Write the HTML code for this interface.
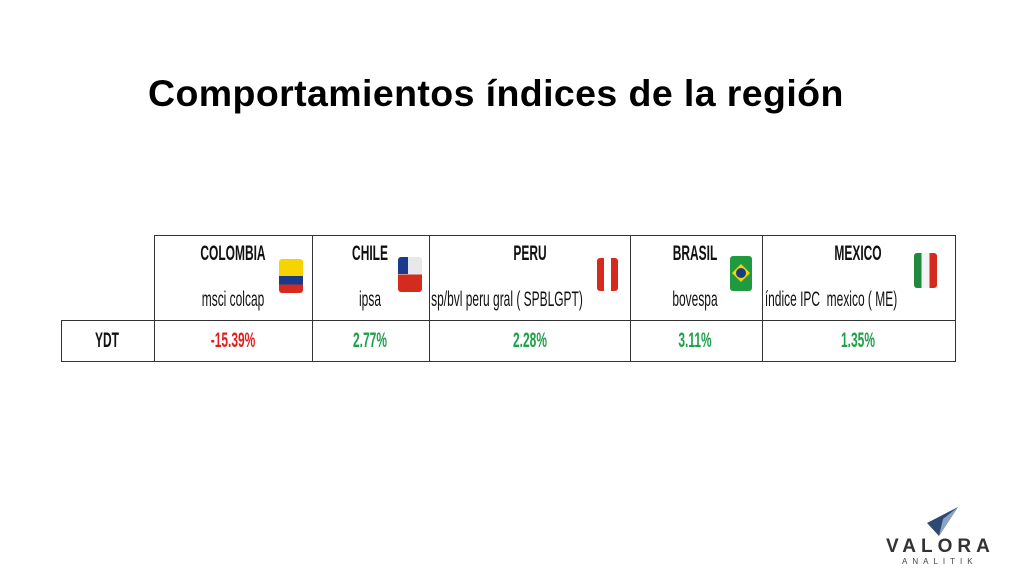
<!DOCTYPE html>
<html><head><meta charset="utf-8"><style>
body{margin:0;width:1024px;height:575px;background:#fff;position:relative;overflow:hidden;font-family:"Liberation Sans",sans-serif}
.t{position:absolute;white-space:nowrap;transform:translateX(-50%) scaleX(.57);font-size:21px;color:#111}
.b{font-weight:bold}
.l{position:absolute;background:#333}
.f{position:absolute;border-radius:3px;overflow:hidden}
</style></head><body>
<div style="position:absolute;left:148px;top:72px;font-size:37.5px;font-weight:bold;color:#000;white-space:nowrap;letter-spacing:0.4px">Comportamientos índices de la región</div>

<div class="l" style="left:154px;top:235px;width:801px;height:1px"></div>
<div class="l" style="left:61px;top:320px;width:894px;height:1px"></div>
<div class="l" style="left:61px;top:361px;width:894px;height:1px"></div>
<div class="l" style="left:61px;top:320px;width:1px;height:42px"></div>
<div class="l" style="left:154px;top:235px;width:1px;height:127px"></div>
<div class="l" style="left:312px;top:235px;width:1px;height:127px"></div>
<div class="l" style="left:429px;top:235px;width:1px;height:127px"></div>
<div class="l" style="left:630px;top:235px;width:1px;height:127px"></div>
<div class="l" style="left:762px;top:235px;width:1px;height:127px"></div>
<div class="l" style="left:955px;top:235px;width:1px;height:127px"></div>

<div class="t b" style="left:233px;top:242px">COLOMBIA</div>
<div class="t" style="left:233px;top:288px">msci colcap</div>
<div class="t b" style="left:370px;top:242px">CHILE</div>
<div class="t" style="left:370px;top:288px">ipsa</div>
<div class="t b" style="left:530px;top:242px">PERU</div>
<div class="t" style="left:507px;top:288px">sp/bvl peru gral ( SPBLGPT)</div>
<div class="t b" style="left:695px;top:242px">BRASIL</div>
<div class="t" style="left:695px;top:288px">bovespa</div>
<div class="t b" style="left:858px;top:242px">MEXICO</div>
<div class="t" style="left:831px;top:288px">índice IPC&nbsp; mexico ( ME)</div>

<div class="t b" style="left:107px;top:329px">YDT</div>
<div class="t b" style="left:233px;top:329px;color:#e0201f">-15.39%</div>
<div class="t b" style="left:370px;top:329px;color:#1fa04a">2.77%</div>
<div class="t b" style="left:530px;top:329px;color:#1fa04a">2.28%</div>
<div class="t b" style="left:695px;top:329px;color:#1fa04a">3.11%</div>
<div class="t b" style="left:858px;top:329px;color:#1fa04a">1.35%</div>

<div class="f" style="left:279px;top:259px;width:24px;height:34px;background:linear-gradient(#f5d400 0 50%,#1a3a8a 50% 75%,#d52b1e 75%)"></div>
<div class="f" style="left:398px;top:257px;width:24px;height:35px;background:linear-gradient(#e8e8ea 0 50%,#d52b1e 50%)"><div style="width:10px;height:17px;background:#1a3a8a"></div></div>
<div class="f" style="left:597px;top:258px;width:21px;height:33px;background:linear-gradient(90deg,#d52b1e 0 33%,#fff 33% 67%,#d52b1e 67%)"></div>
<div class="f" style="left:730px;top:256px;width:22px;height:35px;background:#1f9a3e"><div style="position:absolute;left:3px;top:9px;width:16px;height:16px;background:#f5d400;transform:rotate(45deg) scale(.8)"></div><div style="position:absolute;left:6px;top:12px;width:10px;height:10px;border-radius:50%;background:#1a3a8a"></div></div>
<div class="f" style="left:914px;top:253px;width:23px;height:35px;background:linear-gradient(90deg,#1f8a3e 0 33%,#f4f4f4 33% 67%,#d52b1e 67%)"></div>

<svg style="position:absolute;left:925px;top:507px" width="34" height="30"><polygon points="33,0 2,16 14,29" fill="#2e4a73"/><polygon points="33,0 18,12 14,29" fill="#8aa4c4"/></svg>
<div style="position:absolute;left:886px;top:536px;font-size:19px;font-weight:bold;letter-spacing:5px;color:#333">VALORA</div>
<div style="position:absolute;left:902px;top:557px;font-size:8px;letter-spacing:5px;color:#444">ANALITIK</div>
</body></html>
